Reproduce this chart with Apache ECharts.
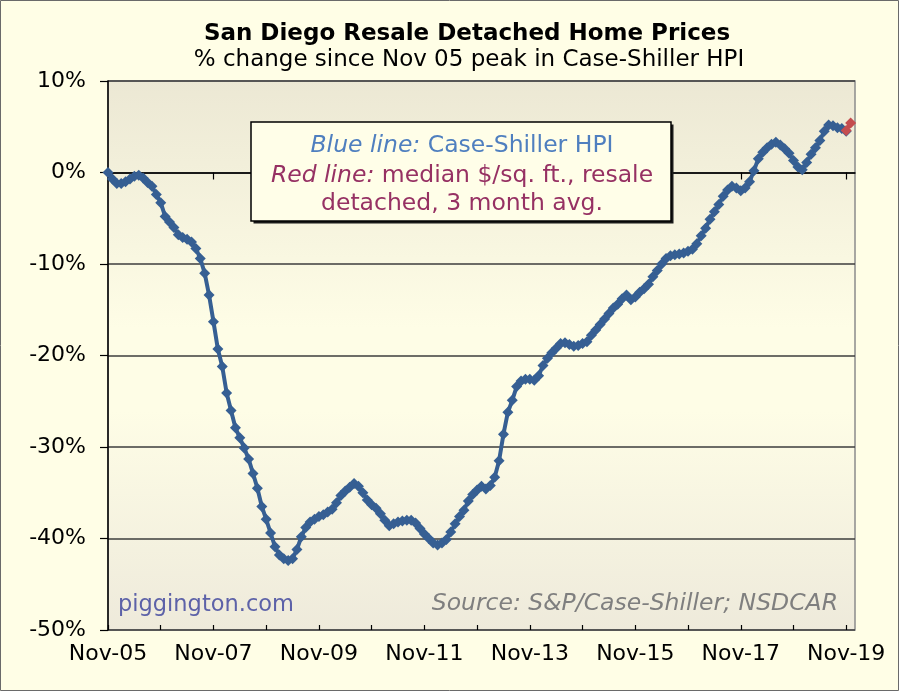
<!DOCTYPE html>
<html>
<head>
<meta charset="utf-8">
<script src="https://cdn.jsdelivr.net/npm/echarts@6/dist/echarts.min.js"></script>
<style>
html,body{margin:0;padding:0;background:#fffee6;}
#c{width:899px;height:691px;}
</style>
</head>
<body>
<div id="c"></div>
<script>
// Monthly Case-Shiller % change since Nov-05, Nov-05 .. Nov-19
var hpi = [
 0.0,-0.7,-1.2,-1.2,-1.0,-0.7,-0.4,-0.3,-0.6,-1.1,-1.5,-2.4,
 -3.3,-4.8,-5.4,-6.0,-6.8,-7.1,-7.3,-7.6,-8.3,-9.4,-11.0,-13.4,
 -16.3,-19.3,-21.2,-24.1,-26.0,-27.9,-29.0,-30.1,-31.3,-32.9,-34.5,-36.5,
 -37.9,-39.4,-40.9,-41.8,-42.2,-42.4,-42.2,-41.2,-39.8,-38.8,-38.2,-37.9,
 -37.6,-37.4,-37.1,-36.8,-36.1,-35.3,-34.8,-34.4,-34.0,-34.3,-35.0,-35.8,
 -36.3,-36.7,-37.3,-38.0,-38.6,-38.4,-38.2,-38.1,-38.0,-38.0,-38.3,-38.9,
 -39.5,-40.0,-40.5,-40.7,-40.5,-40.1,-39.3,-38.4,-37.6,-36.9,-35.9,-35.2,
 -34.7,-34.3,-34.6,-34.2,-33.3,-31.5,-28.6,-26.2,-24.9,-23.4,-22.8,-22.6,
 -22.6,-22.7,-22.2,-21.1,-20.3,-19.7,-19.2,-18.7,-18.6,-18.8,-19.0,-18.9,
 -18.7,-18.5,-17.8,-17.2,-16.6,-16.0,-15.4,-14.8,-14.4,-13.8,-13.4,-13.9,
 -13.6,-13.1,-12.7,-12.2,-11.4,-10.7,-10.0,-9.4,-9.1,-9.0,-8.9,-8.8,
 -8.6,-8.4,-7.8,-6.9,-6.1,-5.1,-4.3,-3.5,-2.6,-1.9,-1.5,-1.7,
 -2.0,-1.7,-1.0,0.2,1.5,2.2,2.7,3.1,3.3,3.0,2.6,2.1,
 1.3,0.6,0.3,1.1,2.0,2.7,3.5,4.5,5.2,5.1,4.9,4.8,
 4.5
];
// Median $/sq.ft. resale detached, 3 month avg (only latest months shown)
var redIdx = [168, 169];
var redVals = [4.6, 5.4];
var xTickLabels = ['Nov-05','Nov-07','Nov-09','Nov-11','Nov-13','Nov-15','Nov-17','Nov-19'];
var yTicks = [10, 0, -10, -20, -30, -40, -50];
var nMonths = 171; // Nov-05 .. Jan-20 axis extent

var cats = [];
for (var i = 0; i < nMonths; i++) cats.push(String(i));
var redData = [];
for (var i = 0; i < nMonths; i++) redData.push(null);
for (var k = 0; k < redIdx.length; k++) redData[redIdx[k]] = redVals[k];

var FONT = 'DejaVu Sans';
var chart = echarts.init(document.getElementById('c'));
chart.setOption({
  backgroundColor: '#fffee6',
  animation: false,
  grid: {
    left: 108, right: 44, top: 81, bottom: 61,
    show: true,
    borderColor: '#8c8c8c', borderWidth: 1.5,
    backgroundColor: {type:'linear', x:0, y:0, x2:0, y2:1, colorStops:[
      {offset:0, color:'#ece8d4'},{offset:0.45, color:'#fefde6'},
      {offset:0.6, color:'#fefde6'},{offset:1, color:'#eeeadb'}]}
  },
  xAxis: [{
    type: 'category', data: cats, boundaryGap: false, position: 'bottom',
    axisLine: {lineStyle: {color: '#000', width: 1.5}},
    axisTick: {show: true, length: 7, interval: function(i){ return i % 24 === 0; }, lineStyle:{color:'#000', width:1.2}},
    axisLabel: {
      interval: function(i){ return i % 24 === 0; },
      formatter: function(v, i){ return xTickLabels[Math.round(Number(v) / 24)] || ''; },
      color: '#000', fontFamily: FONT, fontSize: 22, margin: 13
    },
    splitLine: {show: false}
  },{
    type: 'category', data: cats, boundaryGap: false, position: 'bottom',
    axisLine: {show: false},
    axisTick: {show: true, inside: true, length: 5, interval: function(i){ return i % 12 === 0; }, lineStyle:{color:'#000', width:1.2}},
    axisLabel: {show: false},
    splitLine: {show: false}
  }],
  yAxis: {
    type: 'value', min: -50, max: 10, interval: 10,
    axisLine: {show: true, lineStyle: {color: '#000', width: 1.5}},
    axisTick: {show: true, length: 8, lineStyle:{color:'#000', width:1.2}},
    axisLabel: {formatter: '{value}%', color: '#000', fontFamily: FONT, fontSize: 22, margin: 22},
    splitLine: {show: true, lineStyle: {color: '#3c3c3c', width: 1.5}}
  },
  series: [{
    type: 'line', data: hpi, xAxisIndex: 0,
    symbol: 'diamond', symbolSize: 11, showAllSymbol: true,
    lineStyle: {color: '#365f93', width: 4},
    itemStyle: {color: '#365f93'},
    z: 3
  },{
    type: 'line', data: redData, xAxisIndex: 0,
    symbol: 'diamond', symbolSize: 11, showAllSymbol: true,
    lineStyle: {color: '#c44d4f', width: 4},
    itemStyle: {color: '#c44d4f'},
    z: 4
  }],
  graphic: [
    {type:'rect', shape:{x:0.5, y:0.5, width:898, height:690}, style:{fill:'none', stroke:'#6a6a6a', lineWidth:1}, z:100},
    {type:'text', x: 467, y: 34, style:{text:'San Diego Resale Detached Home Prices', fill:'#000', font:'bold 23px "DejaVu Sans"', textAlign:'center', textVerticalAlign:'middle'}, z:50},
    {type:'text', x: 469, y: 60, style:{text:'% change since Nov 05 peak in Case-Shiller HPI', fill:'#000', font:'23px "DejaVu Sans"', textAlign:'center', textVerticalAlign:'middle'}, z:50},
    {type:'rect', shape:{x:253.5, y:124.5, width:420, height:99}, style:{fill:'#1a1a1a'}, z:20},
    {type:'rect', shape:{x:251, y:122, width:420, height:99}, style:{fill:'#fffee8', stroke:'#000', lineWidth:1.5}, z:21},
    {type:'text', x: 462, y: 146, z: 22, style:{
      text:'{i|Blue line: }{n|Case-Shiller HPI}', textAlign:'center', textVerticalAlign:'middle',
      rich:{i:{fontFamily:FONT, fontSize:23.5, fontStyle:'italic', fill:'#4f7fbf', color:'#4f7fbf'}, n:{fontFamily:FONT, fontSize:23.5, fill:'#4f7fbf', color:'#4f7fbf'}}}},
    {type:'text', x: 462, y: 176, z: 22, style:{
      text:'{i|Red line: }{n|median $/sq. ft., resale}', textAlign:'center', textVerticalAlign:'middle',
      rich:{i:{fontFamily:FONT, fontSize:23.5, fontStyle:'italic', fill:'#963163', color:'#963163'}, n:{fontFamily:FONT, fontSize:23.5, fill:'#963163', color:'#963163'}}}},
    {type:'text', x: 462, y: 204, z: 22, style:{
      text:'detached, 3 month avg.', textAlign:'center', textVerticalAlign:'middle',
      fill:'#963163', font:'23.5px "DejaVu Sans"'}},
    {type:'text', x: 118, y: 605, z: 22, style:{text:'piggington.com', fill:'#5d62a8', font:'22.5px "DejaVu Sans"', textAlign:'left', textVerticalAlign:'middle'}},
    {type:'text', x: 838, y: 604, z: 22, style:{text:'Source: S&P/Case-Shiller; NSDCAR', fill:'#7f7f7f', font:'italic 23.5px "DejaVu Sans"', textAlign:'right', textVerticalAlign:'middle'}}
  ]
});
</script>
</body>
</html>
